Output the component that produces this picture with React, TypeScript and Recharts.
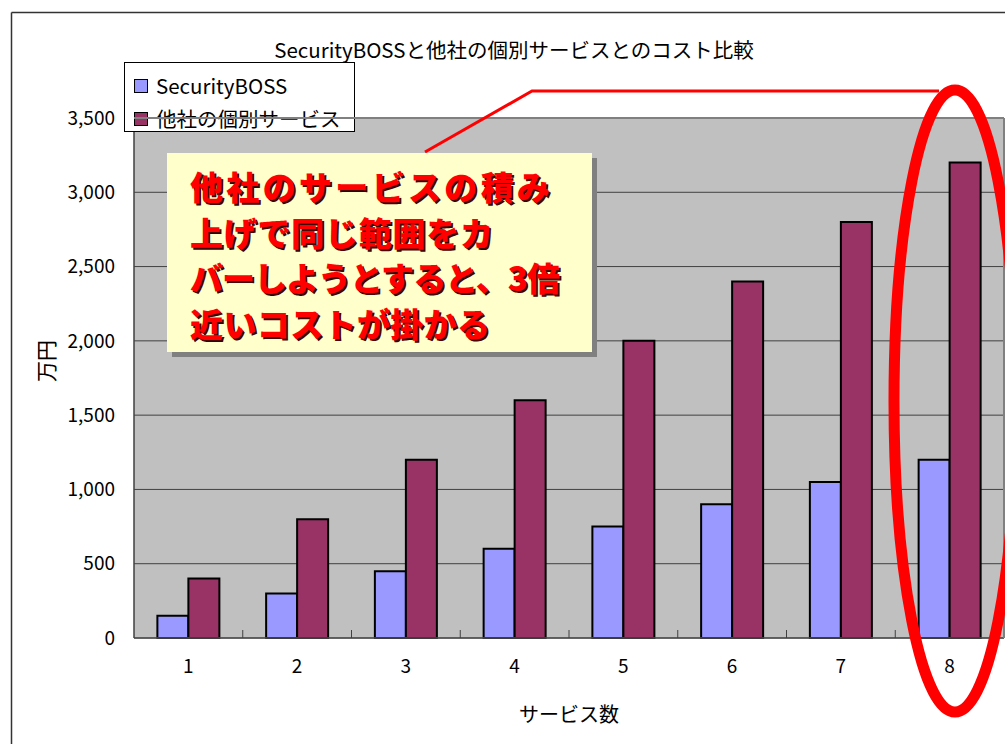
import React from 'react';
import { BarChart, Bar, XAxis, YAxis, CartesianGrid, Legend } from 'recharts';

const categories = ['1', '2', '3', '4', '5', '6', '7', '8'];
const securityBoss = [150, 300, 450, 600, 750, 900, 1050, 1200];
const otherServices = [400, 800, 1200, 1600, 2000, 2400, 2800, 3200];
const yTicks = [0, 500, 1000, 1500, 2000, 2500, 3000, 3500];
const seriesNames = ['SecurityBOSS', '他社の個別サービス'];
const seriesColors = ['#9999FF', '#993366'];
const titleText = 'SecurityBOSSと他社の個別サービスとのコスト比較';
const xLabel = 'サービス数';
const yLabel = '万円';
const noteLines = ['他社のサービスの積み', '上げで同じ範囲をカ', 'バーしようとすると、3倍', '近いコストが掛かる'];
const noteWidths = [360, 303, 370, 300];

const data = categories.map((c, i) => ({ name: c, sb: securityBoss[i], other: otherServices[i] }));

const FONT = '"Noto Sans CJK JP", "Noto Sans", sans-serif';
const W = 1005;
const H = 744;
const PLOT_TOP = 118;
const PLOT_BOTTOM = 638;
const PLOT_LEFT = 134;
const PLOT_RIGHT = 1004;
const X_AXIS_H = 60;

const XTick = (props: any) => {
  const { x, y, payload } = props;
  const off = payload && payload.offset ? payload.offset : 0;
  return (
    <g>
      <line x1={x + off} x2={x + off} y1={PLOT_BOTTOM - 8} y2={PLOT_BOTTOM} stroke="#404040" strokeWidth={1} />
      <text x={x} y={y} dy={15} textAnchor="middle" fontSize={19} fontFamily={FONT} fill="#000">
        {payload.value}
      </text>
    </g>
  );
};

const LegendBox = () => (
  <div
    style={{
      width: 229,
      height: 62,
      paddingTop: 6,
      background: '#fff',
      border: '1px solid #000',
      fontFamily: FONT,
      fontSize: 20.5,
      color: '#000',
      boxSizing: 'content-box',
    }}
  >
    {seriesNames.map((n, i) => (
      <div key={n} style={{ display: 'flex', alignItems: 'center', height: 33, paddingLeft: 9 }}>
        <span
          style={{
            display: 'inline-block',
            width: 12,
            height: 12,
            background: seriesColors[i],
            border: '1px solid #000',
            marginRight: 8,
            flex: 'none',
          }}
        />
        <span style={{ lineHeight: '33px', whiteSpace: 'nowrap' }}>{n}</span>
      </div>
    ))}
  </div>
);

export default function App() {
  return (
    <div style={{ position: 'absolute', left: 0, top: 0, width: W, height: H, background: '#fff', overflow: 'hidden' }}>
      <BarChart
        width={W}
        height={H}
        data={data}
        margin={{ top: PLOT_TOP, right: W - PLOT_RIGHT, bottom: H - PLOT_BOTTOM - X_AXIS_H, left: 0 }}
        barCategoryGap="21.5%"
        barGap={0}
        style={{ fontFamily: FONT }}
      >
        <CartesianGrid vertical={false} stroke="#404040" fill="#C0C0C0" fillOpacity={1} />
        <XAxis
          dataKey="name"
          height={X_AXIS_H}
          tickLine={false}
          tickMargin={14}
          axisLine={{ stroke: '#505050', strokeWidth: 1.5 }}
          tick={<XTick />}
          interval={0}
          label={{ value: xLabel, position: 'bottom', offset: 10, fontSize: 20, fill: '#000', fontFamily: FONT }}
        />
        <YAxis
          width={PLOT_LEFT}
          domain={[0, 3500]}
          ticks={yTicks}
          interval={0}
          tickLine={false}
          tickMargin={13}
          axisLine={{ stroke: '#404040', strokeWidth: 1.5 }}
          tick={{ fontSize: 19, fill: '#000', fontFamily: FONT }}
          tickFormatter={(v: number) => v.toLocaleString('en-US')}
          label={{
            content: (p: any) => {
              const vb = p.viewBox || {};
              const cx = (vb.x || 0) + 45;
              const cy = (vb.y || 0) + (vb.height || 0) / 2 - 17;
              return (
                <text
                  x={cx}
                  y={cy}
                  transform={`rotate(-90, ${cx}, ${cy})`}
                  textAnchor="middle"
                  dominantBaseline="central"
                  fontSize={21}
                  fontFamily={FONT}
                  fill="#000"
                >
                  {yLabel}
                </text>
              );
            },
          }}
        />
        <Legend
          layout="vertical"
          align="center"
          verticalAlign="middle"
          content={<LegendBox />}
          wrapperStyle={{ left: 124, top: 62, width: 231, height: 70 }}
        />
        <Bar dataKey="sb" name={seriesNames[0]} fill={seriesColors[0]} stroke="#000" strokeWidth={2} isAnimationActive={false} />
        <Bar dataKey="other" name={seriesNames[1]} fill={seriesColors[1]} stroke="#000" strokeWidth={2} isAnimationActive={false} />
      </BarChart>
      <svg
        width={W}
        height={H}
        style={{ position: 'absolute', left: 0, top: 0, pointerEvents: 'none' }}
      >
        {/* outer frame */}
        <line x1={11.5} y1={12.5} x2={W} y2={12.5} stroke="#333" strokeWidth={1.5} />
        <line x1={11.5} y1={12.5} x2={11.5} y2={H} stroke="#333" strokeWidth={1.5} />
        {/* plot border top/right */}
        <line x1={PLOT_LEFT} y1={PLOT_TOP} x2={PLOT_RIGHT} y2={PLOT_TOP} stroke="#808080" strokeWidth={2} />
        <line x1={PLOT_RIGHT} y1={PLOT_TOP} x2={PLOT_RIGHT} y2={PLOT_BOTTOM} stroke="#808080" strokeWidth={2} />
        {/* title */}
        <text x={514} y={58} textAnchor="middle" fontSize={20.5} fontFamily={FONT} fill="#000">
          {titleText}
        </text>
        {/* callout line */}
        <polyline points="425,152 532,91 939,91" fill="none" stroke="#FF0000" strokeWidth={3} />
        {/* annotation box */}
        <rect x={172} y={158} width={425} height={199} fill="#808080" />
        <rect x={167} y={153} width={425} height={199} fill="#FFFFCC" />
        {noteLines.map((t, i) => (
          <g key={i}>
            <text
              x={192}
              y={202 + i * 45.5}
              fontSize={33}
              fontWeight={900}
              fontFamily={FONT}
              fill="#3a0000"
              textLength={noteWidths[i]}
              lengthAdjust="spacing"
            >
              {t}
            </text>
            <text
              x={190}
              y={200 + i * 45.5}
              fontSize={33}
              fontWeight={900}
              fontFamily={FONT}
              fill="#FF0000"
              textLength={noteWidths[i]}
              lengthAdjust="spacing"
            >
              {t}
            </text>
          </g>
        ))}
        {/* highlight ellipse */}
        <ellipse cx={955} cy={401} rx={61} ry={311} fill="none" stroke="#FF0000" strokeWidth={11} />
      </svg>
    </div>
  );
}
